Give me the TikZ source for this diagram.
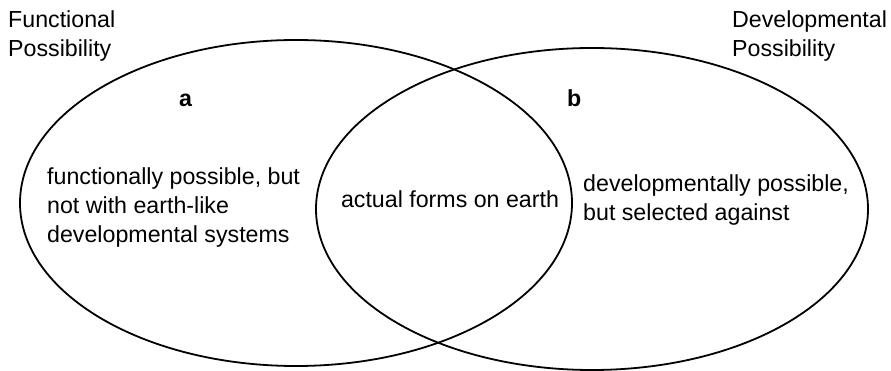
\documentclass[tikz,border=0pt]{standalone}
\usepackage{fontspec}
\setmainfont{Liberation Sans}
\usetikzlibrary{positioning}

\begin{document}
\begin{tikzpicture}[x=1pt,y=-1pt,
    every node/.style={inner sep=0pt,font=\fontsize{23.2}{29}\selectfont},
    setline/.style={line width=1.8pt}]
        \useasboundingbox (0,0) rectangle (891,371);
        % the two sets
        \draw[setline] (296,203) ellipse [x radius=276, y radius=163];
        \draw[setline] (592,209) ellipse [x radius=276, y radius=161];
        % labels above (base = last line)
        \node[anchor=base west,align=left] (func) at (8,57) {Functional\\Possibility};
        \node[anchor=base west,align=left] (dev) at (732,57) {Developmental\\Possibility};
        \node[anchor=base west,font=\fontsize{23.2}{29}\selectfont\bfseries] (a) at (179,107) {a};
        \node[anchor=base west,font=\fontsize{23.2}{29}\selectfont\bfseries] (b) at (567,107) {b};
        % region texts
        \node[anchor=base west,align=left] (funconly) at (47,243) {functionally possible, but\\not with earth-like\\developmental systems};
        \node[anchor=base] (actual) at (450,208) {actual forms on earth};
        \node[anchor=base west,align=left] (devonly) at (583,221) {developmentally possible,\\but selected against};
\end{tikzpicture}
\end{document}
